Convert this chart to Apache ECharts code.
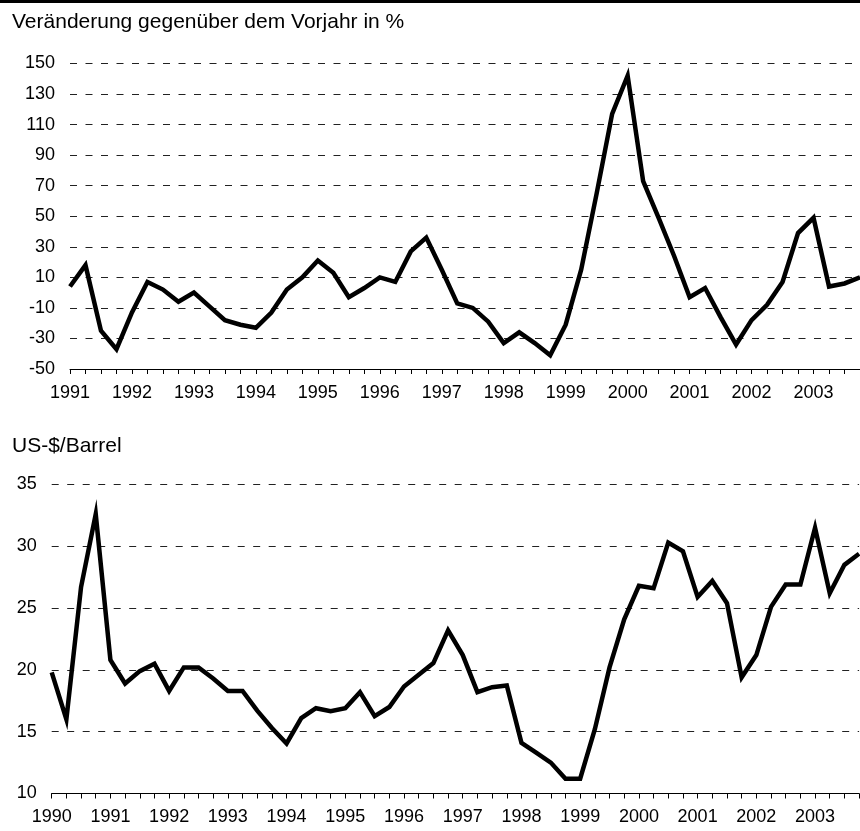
<!DOCTYPE html>
<html>
<head>
<meta charset="utf-8">
<script src="https://cdn.jsdelivr.net/npm/echarts@6/dist/echarts.min.js"></script>
<style>
  html, body { margin: 0; padding: 0; background: #fff; }
  #chart { width: 860px; height: 831px; }
</style>
</head>
<body>
<div id="chart"></div>
<script>
// quarter labels, year shown on Q1 only
let quarters = (from, to) => {
    let out = []
    for (let y = from; y <= to; y++) {
        for (let q = 1; q <= 4; q++) out.push(y + '-Q' + q)
    }
    return out
}

// top panel: change vs previous year in %, 1991 Q1 - 2003 Q4
const topCategories = quarters(1991, 2003)
const topValues = [
    4, 18, -25, -37,
    -13, 7, 2, -6,
    0, -9, -18, -21,
    -23, -13, 2, 10,
    21, 13, -3, 3,
    10, 7, 27, 36,
    15, -7, -10, -19,
    -33, -26, -33, -41,
    -21, 15, 65, 117,
    142, 73, 49, 24,
    -3, 3, -16, -34,
    -18, -8, 7, 39,
    49, 4, 6, 10
]
const topTicks = [-50, -30, -10, 10, 30, 50, 70, 90, 110, 130, 150]

// bottom panel: oil price in US-$/Barrel, 1990 Q1 - 2003 Q4
const bottomCategories = quarters(1990, 2003)
const bottomValues = [
    19.8, 16.0, 26.7, 32.6,
    20.8, 18.9, 19.9, 20.5,
    18.3, 20.2, 20.2, 19.3,
    18.3, 18.3, 16.7, 15.3,
    14.05, 16.1, 16.9, 16.65,
    16.9, 18.2, 16.25, 17.0,
    18.66, 19.6, 20.55, 23.2,
    21.2, 18.2, 18.6, 18.74,
    14.1, 13.3, 12.5, 11.2,
    11.2, 15.2, 20.2, 24.1,
    26.8, 26.6, 30.3, 29.6,
    25.9, 27.2, 25.4, 19.4,
    21.2, 25.1, 26.9, 26.9,
    31.5, 26.2, 28.5, 29.4
]
const bottomTicks = [10, 15, 20, 25, 30, 35]

const font = '"Liberation Sans", Arial, sans-serif'

let xAxisFor = (cats, grid) => ({
    type: 'category',
    gridIndex: grid,
    data: cats,
    boundaryGap: false,
    axisLine: { onZero: false, lineStyle: { color: '#000', width: 1 } },
    axisTick: { interval: 0, length: 5, lineStyle: { color: '#000' } },
    axisLabel: {
        interval: 3,
        margin: 15,
        color: '#000',
        fontSize: 18,
        fontFamily: font,
        formatter: v => v.slice(0, 4)
    },
    splitLine: { show: false }
})

let yAxisFor = (ticks, step, grid) => ({
    type: 'value',
    gridIndex: grid,
    min: ticks[0],
    max: ticks[ticks.length - 1],
    interval: step,
    axisLine: { show: false },
    axisTick: { show: false },
    axisLabel: { margin: 15, color: '#000', fontSize: 18, fontFamily: font },
    splitLine: { lineStyle: { color: '#222', width: 1, type: [7, 8.5] } }
})

let chart = echarts.init(document.getElementById('chart'), null, { renderer: 'canvas' })

chart.setOption({
    animation: false,
    backgroundColor: '#fff',
    title: [
        {
            text: 'Veränderung gegenüber dem Vorjahr in %',
            left: 7, top: 7,
            textStyle: { color: '#000', fontSize: 21, fontWeight: 'normal', fontFamily: font }
        },
        {
            text: 'US-$/Barrel',
            left: 7, top: 431,
            textStyle: { color: '#000', fontSize: 21, fontWeight: 'normal', fontFamily: font }
        }
    ],
    graphic: [
        { type: 'rect', left: 0, top: 0, shape: { width: 860, height: 3 }, style: { fill: '#000' } }
    ],
    grid: [
        { left: 70, top: 63.5, width: 795.6, height: 305.5 },
        { left: 51.7, top: 484.5, width: 807.4, height: 309 }
    ],
    xAxis: [xAxisFor(topCategories, 0), xAxisFor(bottomCategories, 1)],
    yAxis: [yAxisFor(topTicks, 20, 0), yAxisFor(bottomTicks, 5, 1)],
    series: [
        {
            type: 'line', xAxisIndex: 0, yAxisIndex: 0,
            data: topValues, symbol: 'none',
            lineStyle: { color: '#000', width: 4.5, join: 'miter' }
        },
        {
            type: 'line', xAxisIndex: 1, yAxisIndex: 1,
            data: bottomValues, symbol: 'none',
            lineStyle: { color: '#000', width: 4.5, join: 'miter' }
        }
    ]
})
</script>
</body>
</html>
